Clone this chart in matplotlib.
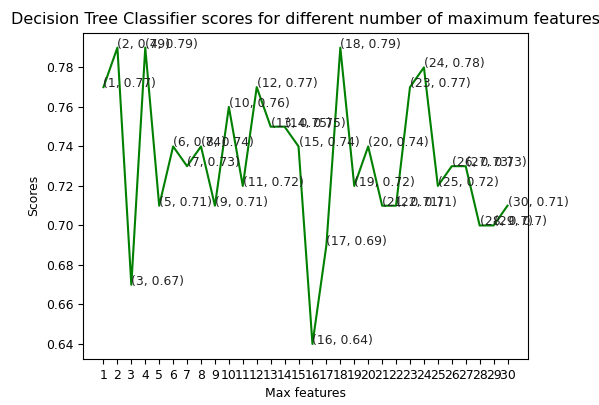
import matplotlib
matplotlib.use("Agg")
import matplotlib.pyplot as plt

max_features = list(range(1, 31))
scores = [0.77, 0.79, 0.67, 0.79, 0.71, 0.74, 0.73, 0.74, 0.71, 0.76,
          0.72, 0.77, 0.75, 0.75, 0.74, 0.64, 0.69, 0.79, 0.72, 0.74,
          0.71, 0.71, 0.77, 0.78, 0.72, 0.73, 0.73, 0.70, 0.70, 0.71]

fs = 8.9
fig = plt.figure(figsize=(5.99, 4.05), dpi=100)
ax = fig.add_axes([0.139, 0.114, 0.742, 0.805])

ax.plot(max_features, scores, color="green", linewidth=1.5)
for x, y in zip(max_features, scores):
    ax.text(x, y, f"({x}, {y})", fontsize=fs, color="#222222")

ax.set_xticks(max_features)
ax.set_xticklabels([str(i) for i in max_features])
ax.tick_params(labelsize=fs)
ax.set_xlabel("Max features", fontsize=fs)
ax.set_ylabel("Scores", fontsize=fs)
ax.set_title("Decision Tree Classifier scores for different number of maximum features",
             fontsize=11.5, pad=6)

fig.savefig("out.png", dpi=100)
